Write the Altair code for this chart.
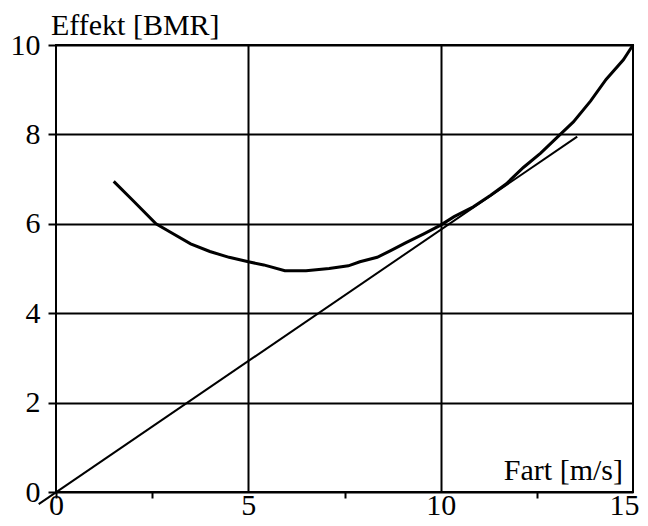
import altair as alt
import pandas as pd

# Curve: power vs speed
curve_x = [1.5, 2.0, 2.6, 3.0, 3.5, 4.0, 4.5, 5.0, 5.4, 5.95, 6.5, 7.1, 7.6, 7.9,
           8.35, 8.7, 9.1, 9.55, 10.0, 10.35, 10.85, 11.3, 11.7, 12.15, 12.6, 13.0,
           13.45, 13.9, 14.3, 14.75, 15.0]
curve_y = [6.95, 6.52, 6.0, 5.8, 5.55, 5.38, 5.25, 5.15, 5.08, 4.95, 4.95, 5.0, 5.06, 5.15,
           5.25, 5.4, 5.58, 5.77, 5.97, 6.16, 6.38, 6.64, 6.89, 7.26, 7.58, 7.91,
           8.28, 8.75, 9.23, 9.67, 10.0]

# Tangent line through origin
line_x = [-0.45, 13.55]
line_y = [-0.27, 7.95]

x_ticks = [0, 2.5, 5, 7.5, 10, 12.5, 15]
y_ticks = [0, 2, 4, 6, 8, 10]

y_title = "Effekt [BMR]"
x_title = "Fart [m/s]"

FONT = "Liberation Serif"
FS = 30
W, H = 577, 447

curve_df = pd.DataFrame({"x": curve_x, "y": curve_y})
line_df = pd.DataFrame({"x": line_x, "y": line_y})

xscale = alt.Scale(domain=[0, 15], nice=False, zero=False)
yscale = alt.Scale(domain=[0, 10], nice=False, zero=False)

xaxis = alt.Axis(
    values=x_ticks,
    title=None,
    grid=True,
    gridColor="black",
    gridWidth=2,
    gridOpacity={"condition": {"test": "datum.value % 5 != 0 || datum.value == 0 || datum.value == 15", "value": 0}, "value": 1},
    tickColor="black",
    tickWidth=2,
    tickSize=6,
    tickOpacity={"condition": {"test": "datum.value == 5 || datum.value == 10 || datum.value == 15", "value": 0}, "value": 1},
    labelExpr="datum.value % 5 == 0 ? datum.label : ''",
    labelFont=FONT,
    labelFontSize=FS,
    labelColor="black",
    labelBaseline="alphabetic",
    labelAlign={"condition": {"test": "datum.value == 15", "value": "right"}, "value": "center"},
    labelOffset={"condition": {"test": "datum.value == 15", "value": 6}, "value": 0},
    labelPadding=16,
    labelFlush=False,
    domain=False,
)
yaxis = alt.Axis(
    values=y_ticks,
    title=None,
    grid=True,
    gridColor="black",
    gridWidth=2,
    tickColor="black",
    tickWidth=2,
    tickSize=8,
    labelFont=FONT,
    labelFontSize=FS,
    labelColor="black",
    labelPadding=8,
    labelFlush=False,
    domain=False,
)

curve = alt.Chart(curve_df).mark_line(color="black", strokeWidth=3, clip=False).encode(
    x=alt.X("x:Q", scale=xscale, axis=xaxis),
    y=alt.Y("y:Q", scale=yscale, axis=yaxis),
)
line = alt.Chart(line_df).mark_line(color="black", strokeWidth=2, clip=False).encode(
    x=alt.X("x:Q", scale=xscale),
    y=alt.Y("y:Q", scale=yscale),
)
ytitle = alt.Chart(pd.DataFrame({"t": [y_title]})).mark_text(
    font=FONT, fontSize=FS, color="black", align="left", baseline="alphabetic"
).encode(x=alt.value(-5), y=alt.value(-10), text="t:N")
xtitle = alt.Chart(pd.DataFrame({"t": [x_title]})).mark_text(
    font=FONT, fontSize=FS, color="black", align="right", baseline="alphabetic"
).encode(x=alt.value(567), y=alt.value(435), text="t:N")

chart = alt.layer(line, curve, ytitle, xtitle).properties(
    width=W, height=H,
    autosize=alt.AutoSizeParams(type="none"),
    padding={"left": 48, "top": 37, "right": 7, "bottom": 26},
    background="white",
).configure_view(stroke="black", strokeWidth=2)

chart.save("out.html", embed_options={"renderer": "svg", "actions": False})
